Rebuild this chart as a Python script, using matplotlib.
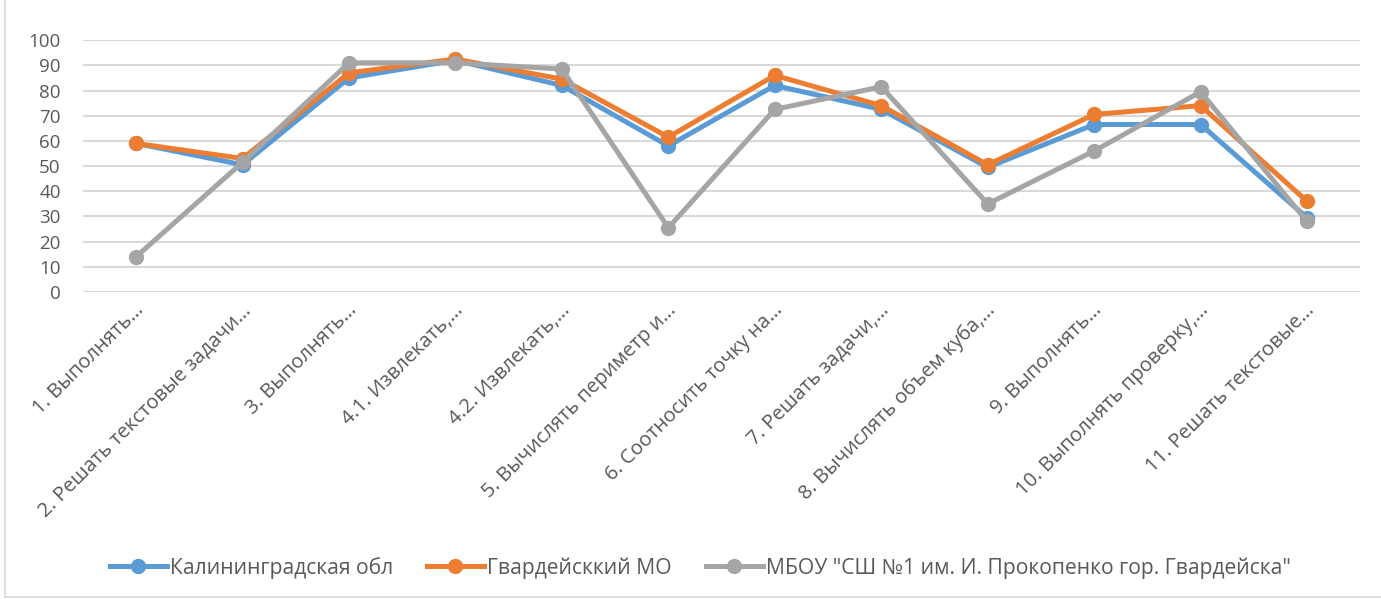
import matplotlib.pyplot as plt
from matplotlib.lines import Line2D
from matplotlib.transforms import ScaledTranslation

plt.rcParams['font.family'] = ['Open Sans', 'DejaVu Sans']

categories = [
    "1. Выполнять…",
    "2. Решать текстовые задачи…",
    "3. Выполнять…",
    "4.1. Извлекать,…",
    "4.2. Извлекать,…",
    "5. Вычислять периметр и…",
    "6. Соотносить точку на…",
    "7. Решать задачи,…",
    "8. Вычислять объем куба,…",
    "9. Выполнять…",
    "10. Выполнять проверку,…",
    "11. Решать текстовые…",
]

kaliningrad = [59, 50.5, 85, 92, 82, 58, 82, 72.5, 49.5, 66.5, 66.5, 29.5]
gvardeisk_mo = [59, 53, 87, 92.5, 84.5, 61.5, 86, 74, 50.5, 70.5, 74, 36]
school = [14, 51.5, 91, 91, 88.5, 25.5, 72.5, 81.5, 35, 56, 79.5, 28]

series_names = [
    "Калининградская обл",
    "Гвардейсккий МО",
    'МБОУ "СШ №1 им. И. Прокопенко гор. Гвардейска"',
]
colors = ["#5B9BD5", "#ED7D31", "#A5A5A5"]
text_color = "#595959"

fig = plt.figure(figsize=(13.81, 5.99), dpi=100)
ax = fig.add_axes([0.060, 0.5125, 0.925, 0.4205])

x = list(range(len(categories)))
for data, name, c in zip([kaliningrad, gvardeisk_mo, school], series_names, colors):
    ax.plot(x, data, color=c, linewidth=3.6, marker='o', markersize=10,
            label=name, solid_joinstyle='round')

ax.set_xlim(-0.5, len(categories) - 0.5)
ax.set_ylim(0, 100)
ax.set_yticks(range(0, 101, 10))
ax.yaxis.grid(True, color="#D9D9D9", linewidth=1.5)
ax.set_axisbelow(True)
for s in ax.spines.values():
    s.set_visible(False)

ax.set_xticks(x)
ax.set_xticklabels(categories, rotation=45, ha='right', va='center',
                   rotation_mode='anchor')
ax.tick_params(axis='both', length=0, colors=text_color)
ax.tick_params(axis='y', pad=16, labelsize=13.5)
ax.tick_params(axis='x', pad=11, labelsize=14.5)
shift = ScaledTranslation(5 / 100, 0, fig.dpi_scale_trans)
for lbl in ax.get_xticklabels():
    lbl.set_transform(lbl.get_transform() + shift)

ax.legend(loc='center', bbox_to_anchor=(0.507, 0.052), bbox_transform=fig.transFigure,
          ncol=3, frameon=False, fontsize=15.2, labelcolor=text_color,
          handlelength=2.7, handletextpad=0.15, columnspacing=1.6)

# chart border (left and bottom edges visible)
fig.add_artist(Line2D([5 / 1381, 5 / 1381], [0.003, 1.0], color="#D9D9D9", linewidth=1.2))
fig.add_artist(Line2D([5 / 1381, 1.0], [0.003, 0.003], color="#D9D9D9", linewidth=1.2))

fig.savefig("out.png", dpi=100)
